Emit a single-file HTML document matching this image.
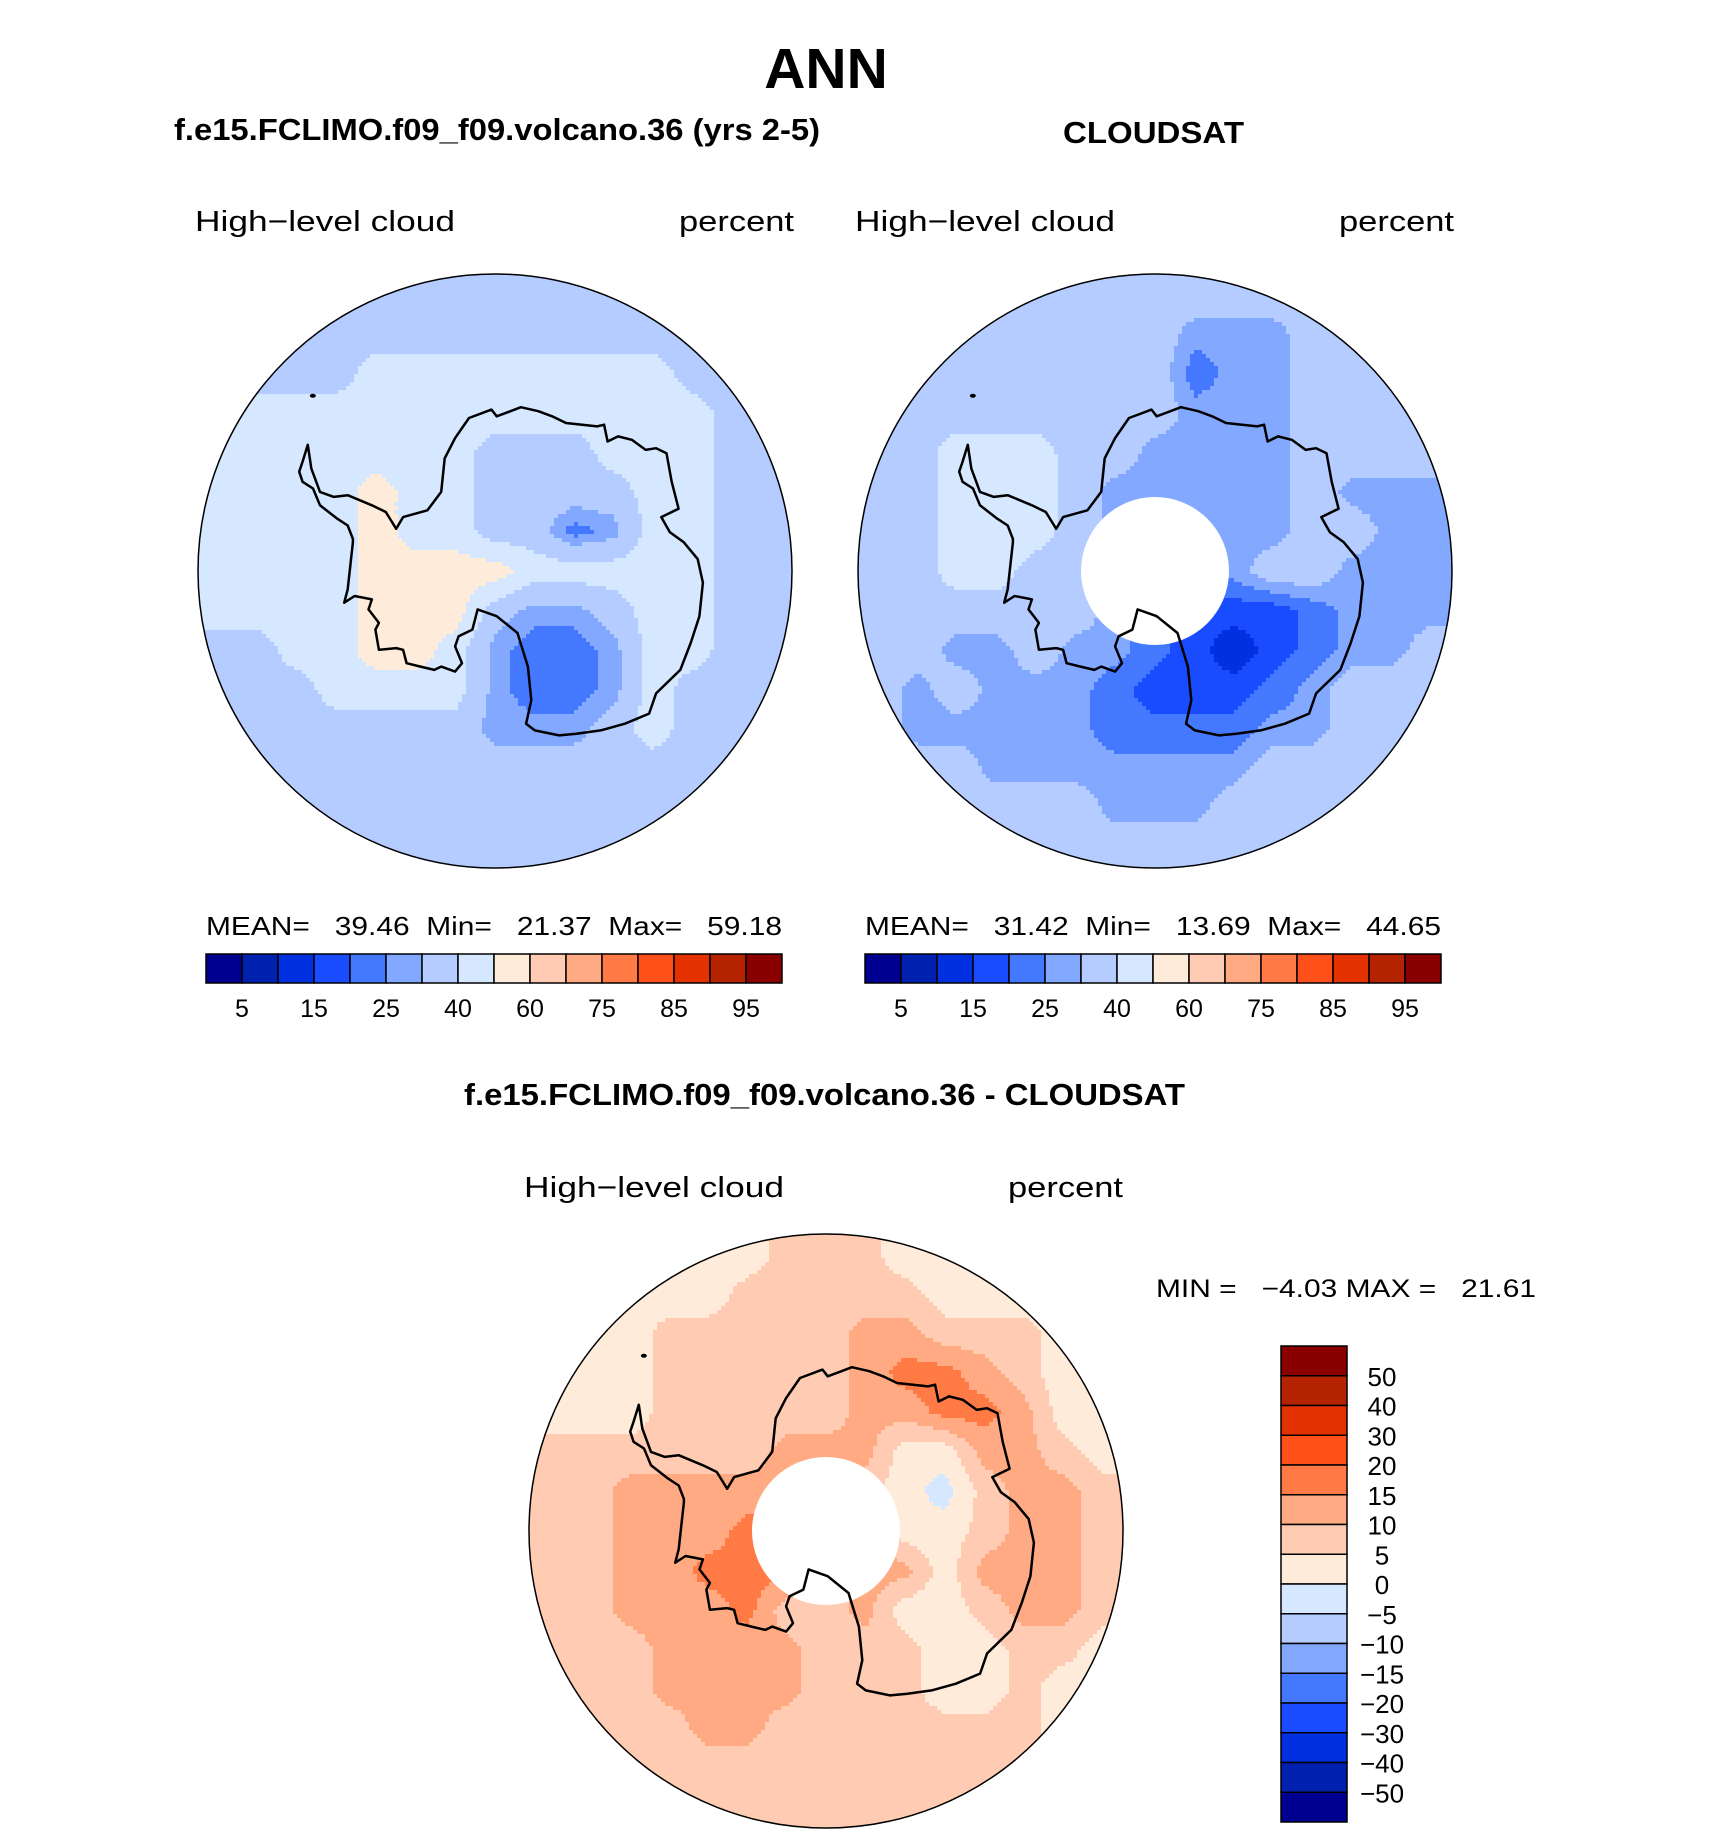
<!DOCTYPE html>
<html><head><meta charset="utf-8"><style>
html,body{margin:0;padding:0;background:#fff;}
svg{display:block;}
text{font-family:"Liberation Sans",sans-serif;}
</style></head><body>
<svg id="fig" width="1710" height="1839" viewBox="0 0 1710 1839">
<text x="826" y="88" font-size="57" font-weight="bold" text-anchor="middle">ANN</text>
<text x="174" y="140" font-size="31" font-weight="bold" textLength="646" lengthAdjust="spacingAndGlyphs">f.e15.FCLIMO.f09_f09.volcano.36 (yrs 2-5)</text>
<text x="1063" y="143" font-size="31" font-weight="bold" textLength="181" lengthAdjust="spacingAndGlyphs">CLOUDSAT</text>
<text x="195" y="231" font-size="29" textLength="260" lengthAdjust="spacingAndGlyphs">High−level cloud</text>
<text x="679" y="231" font-size="29" textLength="115" lengthAdjust="spacingAndGlyphs">percent</text>
<text x="855" y="231" font-size="29" textLength="260" lengthAdjust="spacingAndGlyphs">High−level cloud</text>
<text x="1339" y="231" font-size="29" textLength="115" lengthAdjust="spacingAndGlyphs">percent</text>
<text x="206" y="935" font-size="26" textLength="576" lengthAdjust="spacingAndGlyphs" xml:space="preserve">MEAN=   39.46  Min=   21.37  Max=   59.18</text>
<text x="865" y="935" font-size="26" textLength="576" lengthAdjust="spacingAndGlyphs" xml:space="preserve">MEAN=   31.42  Min=   13.69  Max=   44.65</text>
<text x="464" y="1105" font-size="31" font-weight="bold" textLength="721" lengthAdjust="spacingAndGlyphs">f.e15.FCLIMO.f09_f09.volcano.36 - CLOUDSAT</text>
<text x="524" y="1197" font-size="29" textLength="260" lengthAdjust="spacingAndGlyphs">High−level cloud</text>
<text x="1008" y="1197" font-size="29" textLength="115" lengthAdjust="spacingAndGlyphs">percent</text>
<text x="1156" y="1297" font-size="25" textLength="380" lengthAdjust="spacingAndGlyphs" xml:space="preserve">MIN =   −4.03 MAX =   21.61</text>
<g id="maps"></g>
<g id="bars"></g>
</svg>
<script>
const colors = ["#000090","#0020B0","#0030E0","#1A4CFF","#4478FF","#82A8FF","#B4CCFF","#D6E8FF","#FFEBD9","#FFCCB3","#FFAA82","#FF7A45","#FF5019","#E33200","#B52300","#8A0000"];
const absLevels = [5,10,15,20,25,30,40,50,60,70,75,80,85,90,95];
const absTickLabels = ["5","15","25","40","60","75","85","95"];
const diffLevels = [-50,-40,-30,-20,-15,-10,-5,0,5,10,15,20,30,40,50];
const diffTickLabels = ["50","40","30","20","15","10","5","0","−5","−10","−15","−20","−30","−40","−50"];

const modelGrid = [
[35,35,35,35,35,35,35,35,35,35,35,35,35,35,35],
[35,35,35,35,35,35,35,35,35,35,35,35,35,35,35],
[35,35,35,35,45,45,45,45,45,45,45,45,35,35,35],
[35,45,45,45,45,45,45,45,45,45,45,45,45,35,35],
[45,45,45,45,45,45,45,35,35,35,45,45,45,35,35],
[45,45,45,45,55,45,45,35,35,35,35,45,45,35,35],
[45,45,45,45,55,45,45,35,35,22,27,45,45,35,35],
[45,45,45,45,55,55,55,55,45,45,45,45,45,35,35],
[45,45,45,45,55,55,55,35,27,27,35,45,45,35,35],
[35,35,45,45,55,55,45,27,22,22,27,45,45,35,35],
[35,35,35,45,45,45,45,27,22,22,27,45,35,35,35],
[35,35,35,35,35,35,35,27,27,27,35,45,35,35,35],
[35,35,35,35,35,35,35,35,35,35,35,35,35,35,35],
[35,35,35,35,35,35,35,35,35,35,35,35,35,35,35],
[35,35,35,35,35,35,35,35,35,35,35,35,35,35,35]];
const obsGrid = [
[35,35,35,35,35,35,35,35,35,35,35,35,35,35,35],
[35,35,35,35,35,35,35,35,27,27,27,35,35,35,35],
[35,35,35,35,35,35,35,35,22,27,27,35,35,35,35],
[35,35,35,35,35,35,35,35,27,27,27,35,35,35,35],
[35,35,45,45,45,35,35,27,27,27,27,35,35,35,35],
[35,35,45,45,45,35,27,27,27,27,27,35,27,27,27],
[35,35,45,45,45,35,27,27,27,27,27,35,35,27,27],
[35,35,45,45,35,35,27,27,27,27,35,35,27,27,27],
[35,35,35,35,35,35,27,22,17,17,17,22,27,27,27],
[35,35,27,27,35,27,27,22,17,12,17,22,27,27,35],
[35,27,35,27,27,27,22,17,17,17,22,27,35,35,35],
[35,27,27,27,27,27,22,22,22,22,27,27,35,35,35],
[35,35,35,27,27,27,27,27,27,27,35,35,35,35,35],
[35,35,35,35,35,35,27,27,27,35,35,35,35,35,35],
[35,35,35,35,35,35,35,35,35,35,35,35,35,35,35]];
const diffGrid = [
[2,2,2,2,2,2,7,7,7,2,2,2,2,2,2],
[2,2,2,2,2,7,7,7,7,7,2,2,2,2,2],
[2,2,2,7,7,7,7,7,12,12,7,7,7,2,2],
[2,2,2,7,7,7,7,7,12,17,17,12,7,2,2],
[2,2,2,7,7,7,7,7,12,12,17,17,12,2,2],
[7,7,7,7,7,7,12,12,12,2,2,12,12,7,2],
[7,7,12,12,12,12,12,12,7,2,-2,7,12,12,7],
[7,7,12,12,12,17,17,17,12,2,2,7,12,12,7],
[7,7,12,12,17,17,17,7,12,12,2,12,12,12,7],
[7,7,12,12,12,17,7,7,12,2,2,7,12,12,7],
[7,7,7,12,12,12,12,7,7,7,2,2,7,7,2],
[7,7,7,12,12,12,12,7,7,7,2,2,7,2,2],
[7,7,7,7,12,12,7,7,7,7,7,7,7,2,2],
[2,7,7,7,7,7,7,7,7,7,7,7,7,2,2],
[2,2,2,7,7,7,7,7,7,7,7,7,2,2,2]];

const NS="http://www.w3.org/2000/svg";
function mk(tag, attrs, parent){const e=document.createElementNS(NS,tag);for(const k in attrs)e.setAttribute(k,attrs[k]);parent.appendChild(e);return e;}
function levelIndex(v, levels){let i=0;while(i<levels.length && v>=levels[i])i++;return i;}

const coastRaw=[[215,190],[225,260],[250,330],[290,345],[330,340],[400,370],[440,390],[470,440],[490,405],[560,385],[600,330],[610,230],[640,170],[680,110],[745,85],[760,105],[800,90],[830,78],[880,90],[920,105],[960,125],[1050,135],[1070,130],[1080,180],[1110,165],[1150,175],[1190,205],[1220,200],[1250,215],[1265,300],[1285,380],[1235,405],[1260,450],[1300,480],[1340,530],[1355,600],[1345,700],[1320,780],[1290,860],[1220,930],[1200,990],[1130,1020],[1060,1040],[990,1050],[940,1055],[870,1040],[845,1020],[860,950],[850,850],[820,750],[760,700],[705,680],[690,740],[650,760],[640,790],[660,840],[640,865],[600,850],[580,860],[540,850],[500,840],[490,800],[470,795],[420,800],[410,740],[420,720],[390,680],[400,650],[350,640],[320,660],[330,620],[345,480],[345,470],[330,430],[300,410],[250,370],[230,320],[200,300],[190,270],[200,240],[215,190]];
const coastN=coastRaw.map(p=>[((240+p[0]/3-502)/300)*1.05+0.036,((380+p[1]/3-575)/300)*1.018+0.022]);

function sample(grid,u,v){ // u,v in cell units (continuous)
  const n=grid.length;
  let x=u-0.5,y=v-0.5;
  x=Math.max(0,Math.min(n-1,x)); y=Math.max(0,Math.min(n-1,y));
  const i0=Math.floor(x),j0=Math.floor(y),i1=Math.min(n-1,i0+1),j1=Math.min(n-1,j0+1);
  const fx=x-i0,fy=y-j0;
  return grid[j0][i0]*(1-fx)*(1-fy)+grid[j0][i1]*fx*(1-fy)+grid[j1][i0]*(1-fx)*fy+grid[j1][i1]*fx*fy;
}

const mapsG=document.getElementById('maps');
function drawMap(id,cx,cy,r,grid,levels,hole){
  const g=mk('g',{},mapsG);
  
  
  const clip=mk('clipPath',{id:id+'-clip'},g);
  mk('circle',{cx:cx,cy:cy,r:r},clip);
  const cells=mk('g',{'clip-path':'url(#'+id+'-clip)','shape-rendering':'crispEdges'},g);
  const n=grid.length, cs=2*r/n, px=4;
  const steps=Math.ceil(2*r/px);
  for(let j=0;j<steps;j++){
    const y=cy-r+j*px, v=(j+0.5)*px/cs;
    let runStart=0, runIdx=levelIndex(sample(grid,0.5*px/cs,v),levels);
    for(let i=1;i<=steps;i++){
      const idx = i<steps ? levelIndex(sample(grid,(i+0.5)*px/cs,v),levels) : -1;
      if(idx!==runIdx){
        const c=mk('rect',{x:cx-r+runStart*px,y:y,width:(i-runStart)*px+0.5,height:px+0.5,fill:colors[runIdx]},cells);
        
        
        runStart=i; runIdx=idx;
      }
    }
  }
  if(hole){const h=mk('circle',{cx:cx,cy:cy,r:74,fill:'#fff'},g);
    
    }
  const d=coastN.map((p,k)=>(k?'L':'M')+(cx+p[0]*r).toFixed(1)+','+(cy+p[1]*r).toFixed(1)).join(' ')+'Z';
  const cp=mk('path',{d:d,fill:'none',stroke:'#000','stroke-width':2.5,'stroke-linejoin':'round'},g);
  
  
  const isl=mk('ellipse',{cx:cx+(240+78-502)/300*r,cy:cy+(380+18-575)/300*r,rx:3,ry:2,fill:'#000'},g);
  
  
  const b=mk('circle',{cx:cx,cy:cy,r:r,fill:'none',stroke:'#000','stroke-width':1.5},g);
  
  
}
drawMap('model-map',495,571,297,modelGrid,absLevels,false);
drawMap('cloudsat-map',1155,571,297,obsGrid,absLevels,true);
drawMap('difference-map',826,1531,297,diffGrid,diffLevels,true);

const barsG=document.getElementById('bars');
function hBar(name,x0,y0,w,h){
  const g=mk('g',{},barsG);
  
  
  const bw=w/16;
  colors.forEach((c,i)=>{const r=mk('rect',{x:x0+i*bw,y:y0,width:bw,height:h,fill:c,stroke:'#000','stroke-width':1.5},g);
    
    });
  absTickLabels.forEach((t,k)=>{const tx=mk('text',{x:x0+(2*k+1)*bw,y:y0+63,'font-size':25,'text-anchor':'middle'},g);tx.textContent=t;
    
    });
}
hBar('left-colorbar',206,954,576,29);
hBar('right-colorbar',865,954,576,29);
(function(){
  const g=mk('g',{},barsG);
  
  
  const x0=1281,y0=1346,w=66,h=476,bh=h/16;
  colors.slice().reverse().forEach((c,i)=>{const r=mk('rect',{x:x0,y:y0+i*bh,width:w,height:bh,fill:c,stroke:'#000','stroke-width':1.5},g);
    
    });
  diffTickLabels.forEach((t,k)=>{const tx=mk('text',{x:1382,y:y0+(k+1)*bh+10,'font-size':26,'text-anchor':'middle'},g);tx.textContent=t;
    
    });
})();
</script>
</body></html>
